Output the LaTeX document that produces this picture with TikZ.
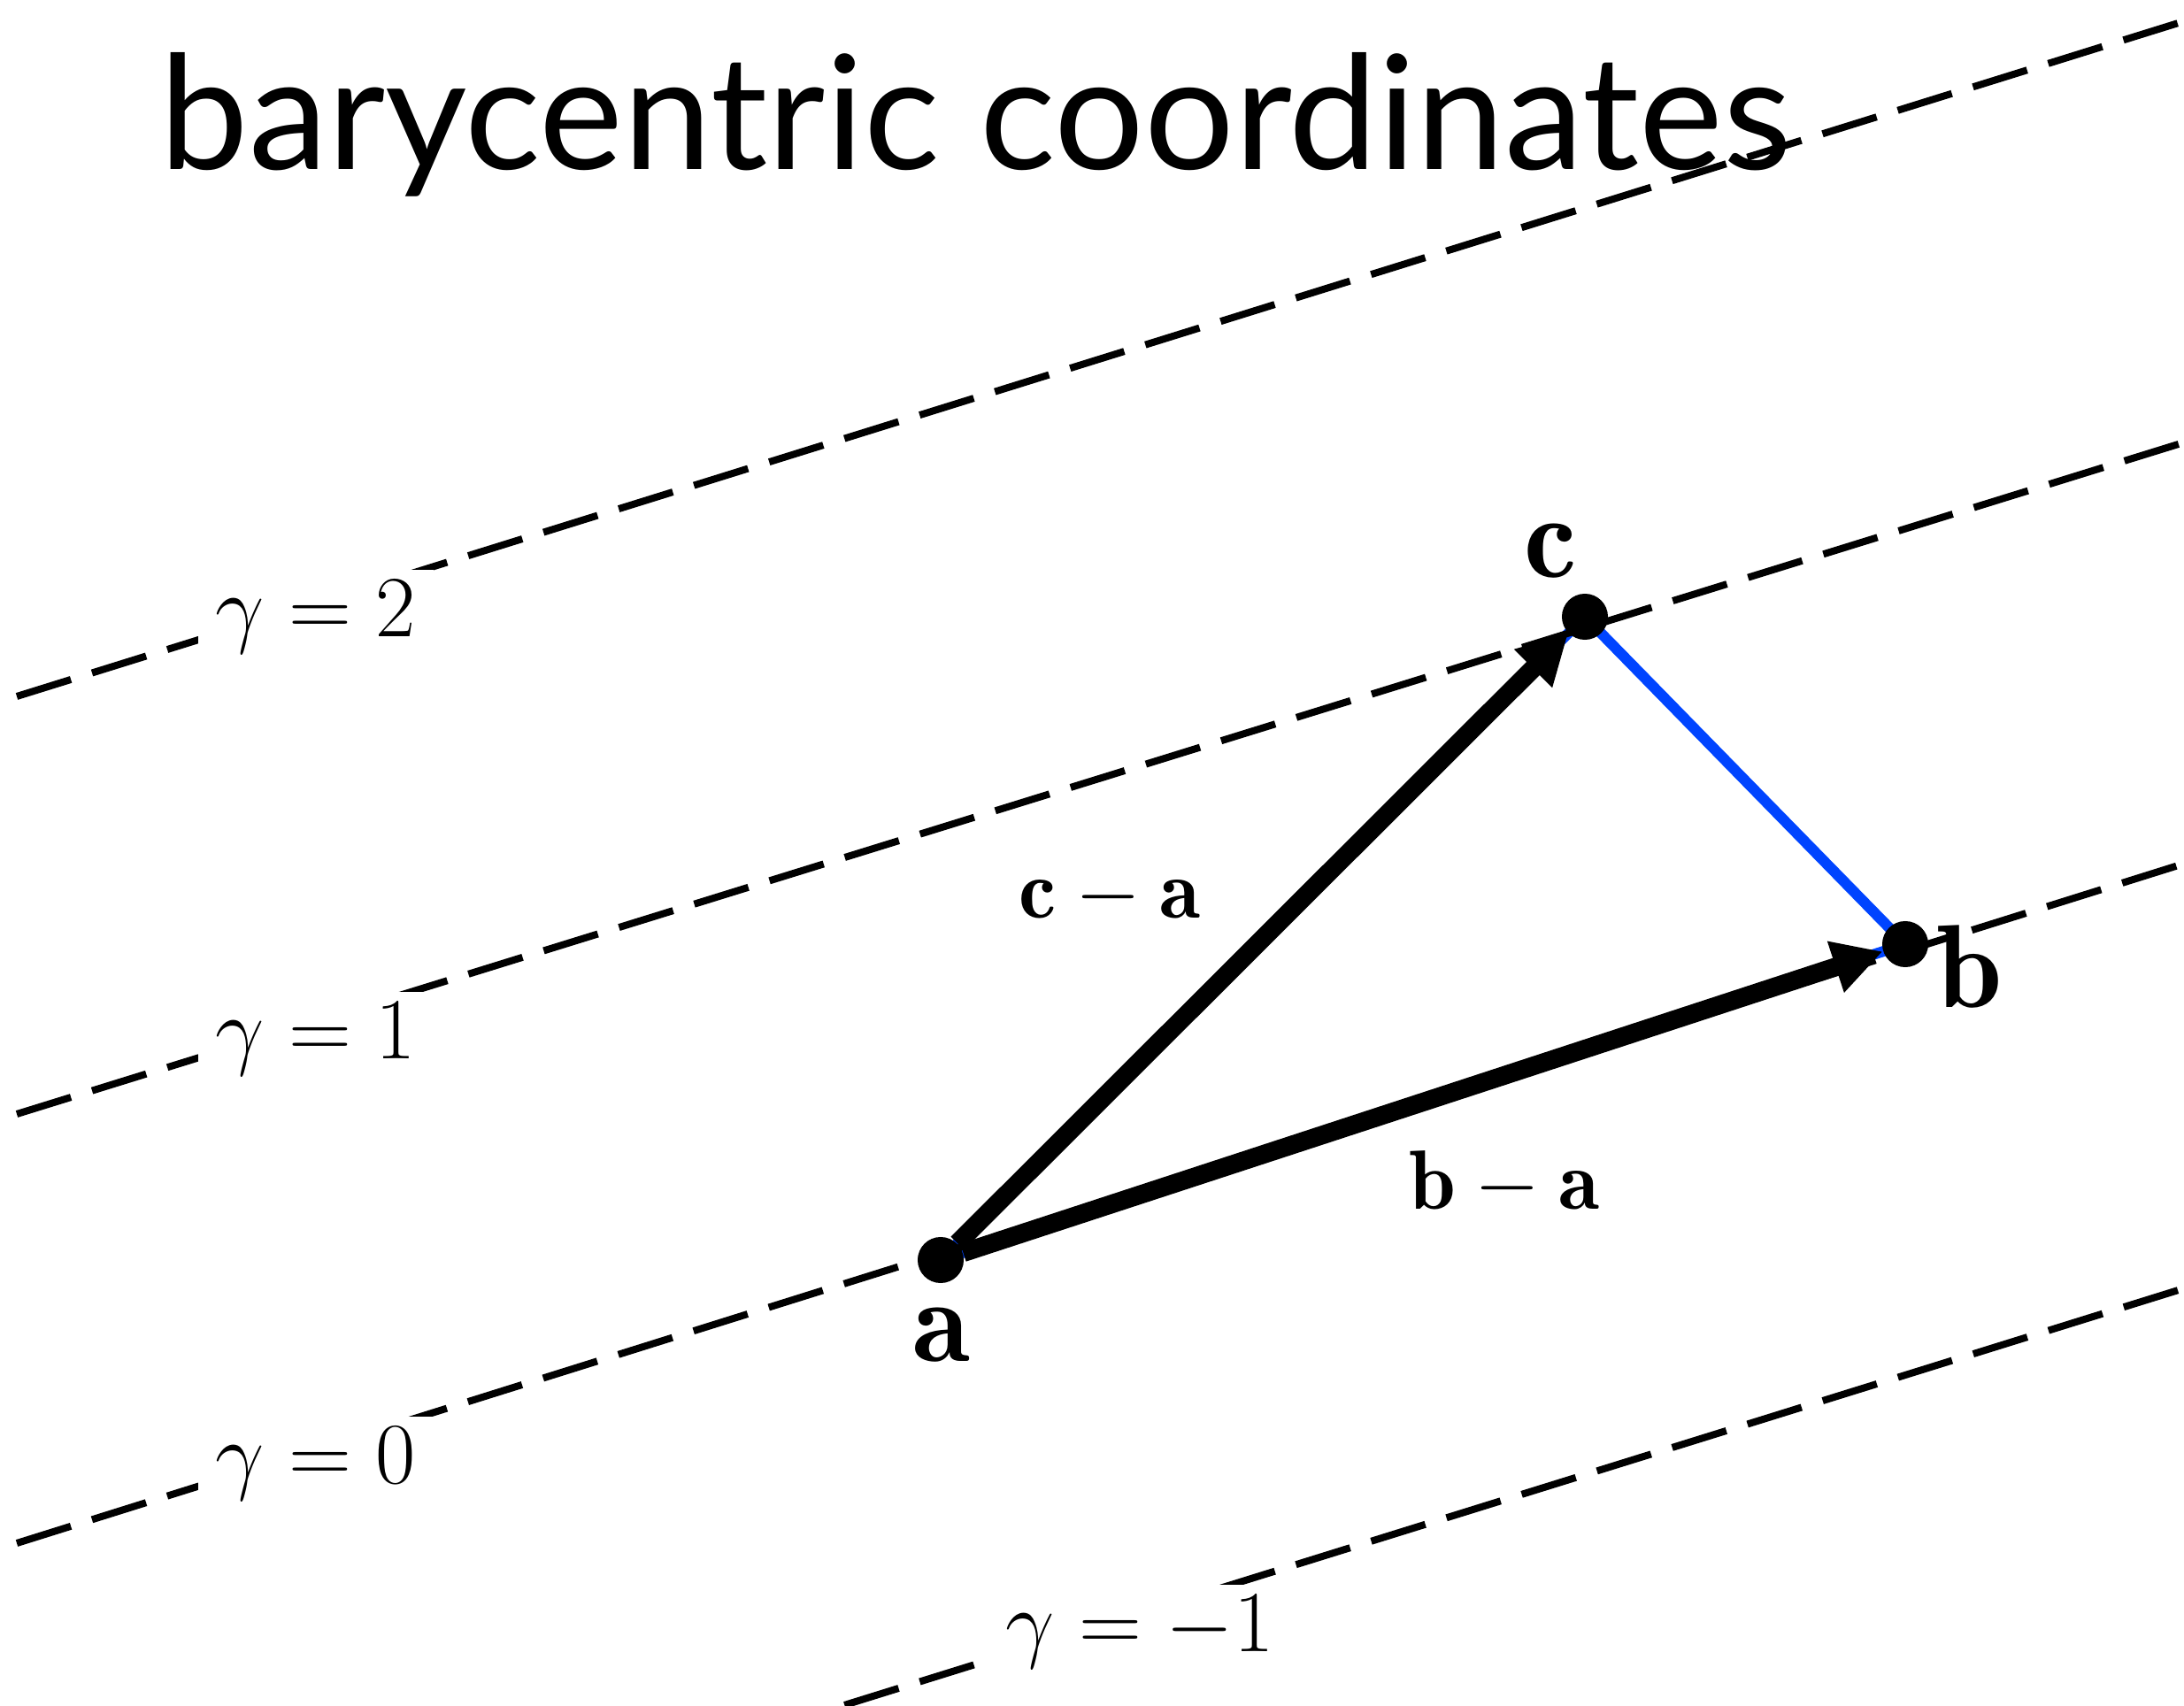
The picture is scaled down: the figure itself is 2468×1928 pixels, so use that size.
\RequirePackage{fix-cm}
\documentclass[tikz,border=0pt]{standalone}
\usepackage{fontspec}
\newfontfamily\titlefont{Lato}
\usetikzlibrary{arrows.meta,backgrounds}
\definecolor{sideblue}{RGB}{0,68,255}
\tikzset{
  level line/.style={line width=0.08cm, dash pattern=on 0.64cm off 0.25cm},
  level label/.style={fill=white, inner xsep=0.2cm, inner ysep=0.12cm, font=\fontsize{28}{32}\selectfont},
  vertex/.style={circle, fill=black, minimum size=0.52cm, inner sep=0pt},
  vertex label/.style={anchor=base, inner sep=0pt, font=\fontsize{38}{44}\selectfont},
  vec/.style={line width=0.21cm, -{Triangle[length=0.56cm, width=0.57cm]}},
  vec label/.style={anchor=base, inner sep=0pt, font=\fontsize{27}{30}\selectfont},
  side/.style={sideblue, line width=0.12cm}
}
\begin{document}
\begin{tikzpicture}[x=0.01cm, y=-0.01cm]
\useasboundingbox (0,0) rectangle (2468,1928);
\clip (0,0) rectangle (2468,1928);

% lines of constant gamma
\coordinate (g2w) at (19,787);   \coordinate (g2e) at (2468,24);
\coordinate (g1w) at (19,1259);  \coordinate (g1e) at (2468,500);
\coordinate (g0w) at (19,1744);  \coordinate (g0e) at (2468,976);
\coordinate (gmw) at (19,2218);  \coordinate (gme) at (2468,1456);
\foreach \g in {g2,g1,g0,gm}
  \draw[level line] (\g w) -- (\g e);

\node[level label] (lbl g2) at (357,697) {$\gamma = 2$};
\node[level label] (lbl g1) at (357,1174) {$\gamma = 1$};
\node[level label] (lbl g0) at (357,1654) {$\gamma = 0$};
\node[level label] (lbl gm) at (1288,1844) {$\gamma = -1$};

% triangle
\node[vertex] (a) at (1063,1424) {};
\node[vertex] (b) at (2153,1067) {};
\node[vertex] (c) at (1791,697) {};
\begin{pgfonlayer}{background}
  \draw[side] (a.center) -- (b.center) -- (c.center) -- cycle;
\end{pgfonlayer}
\draw[vec] (a) -- (c);
\draw[vec] (a) -- (b);

\node[vertex label] (lbl a) at (1064,1538) {$\mathbf{a}$};
\node[vertex label] (lbl b) at (2226,1139) {$\mathbf{b}$};
\node[vertex label] (lbl c) at (1752,653) {$\mathbf{c}$};
\node[vec label] (lbl ca) at (1254,1038) {$\mathbf{c}-\mathbf{a}$};
\node[vec label] (lbl ba) at (1700,1367) {$\mathbf{b}-\mathbf{a}$};

% title
\node[anchor=base west, inner sep=0pt, font=\titlefont\fontsize{51}{60}\selectfont] (title) at (180,192) {barycentric coordinates};
\end{tikzpicture}
\end{document}
